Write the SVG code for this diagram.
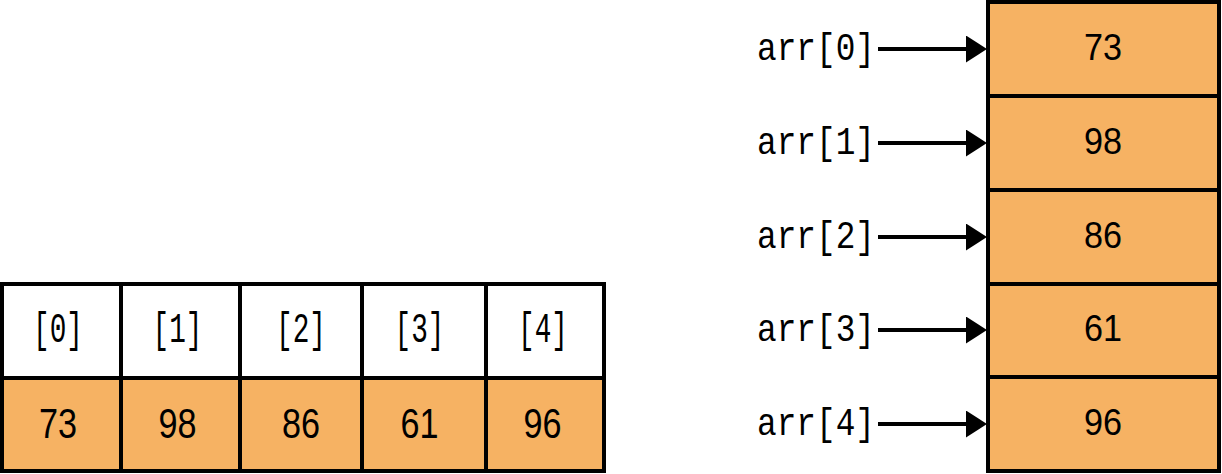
<svg xmlns="http://www.w3.org/2000/svg" width="1222" height="474" viewBox="0 0 1222 474">
<defs>
<style>
.cell{stroke:#000;stroke-width:4}
.hdr{fill:#fff}
.val{fill:#F6B263}
.num{font-family:"Liberation Sans",Arial,sans-serif;fill:#000;text-anchor:middle}
.mono{font-family:"Liberation Mono","DejaVu Sans Mono",monospace;fill:#000}
.conn{stroke:#000;stroke-width:4;fill:none}
</style>
<marker id="ah" markerUnits="userSpaceOnUse" markerWidth="22" markerHeight="28" refX="0" refY="13.5" orient="auto">
<path d="M0,0 L21,13.5 L0,27 Z" fill="#000"/>
</marker>
</defs>
<rect width="1222" height="474" fill="#fff"/>

<!-- Horizontal array -->
<g id="h0">
<rect class="cell hdr" x="2" y="284" width="119" height="94"/>
<rect class="cell val" x="2" y="378" width="119" height="93"/>
<text class="mono" x="58" y="342" font-size="43" text-anchor="middle" textLength="50" lengthAdjust="spacingAndGlyphs">[0]</text>
<text class="num" x="58" y="438" font-size="42" textLength="38" lengthAdjust="spacingAndGlyphs">73</text>
</g>
<g id="h1">
<rect class="cell hdr" x="121" y="284" width="119" height="94"/>
<rect class="cell val" x="121" y="378" width="119" height="93"/>
<text class="mono" x="177.5" y="342" font-size="43" text-anchor="middle" textLength="50" lengthAdjust="spacingAndGlyphs">[1]</text>
<text class="num" x="177.5" y="438" font-size="42" textLength="38" lengthAdjust="spacingAndGlyphs">98</text>
</g>
<g id="h2">
<rect class="cell hdr" x="240" y="284" width="122" height="94"/>
<rect class="cell val" x="240" y="378" width="122" height="93"/>
<text class="mono" x="301" y="342" font-size="43" text-anchor="middle" textLength="50" lengthAdjust="spacingAndGlyphs">[2]</text>
<text class="num" x="301" y="438" font-size="42" textLength="38" lengthAdjust="spacingAndGlyphs">86</text>
</g>
<g id="h3">
<rect class="cell hdr" x="362" y="284" width="124" height="94"/>
<rect class="cell val" x="362" y="378" width="124" height="93"/>
<text class="mono" x="419.5" y="342" font-size="43" text-anchor="middle" textLength="50" lengthAdjust="spacingAndGlyphs">[3]</text>
<text class="num" x="419.5" y="438" font-size="42" textLength="38" lengthAdjust="spacingAndGlyphs">61</text>
</g>
<g id="h4">
<rect class="cell hdr" x="486" y="284" width="118" height="94"/>
<rect class="cell val" x="486" y="378" width="118" height="93"/>
<text class="mono" x="543" y="342" font-size="43" text-anchor="middle" textLength="50" lengthAdjust="spacingAndGlyphs">[4]</text>
<text class="num" x="542.5" y="438" font-size="42" textLength="38" lengthAdjust="spacingAndGlyphs">96</text>
</g>

<!-- Vertical array -->
<g id="v0">
<rect class="cell val" x="988" y="2" width="231" height="94"/>
<text class="num" x="1103" y="60" font-size="37" textLength="38" lengthAdjust="spacingAndGlyphs">73</text>
</g>
<g id="v1">
<rect class="cell val" x="988" y="96" width="231" height="94"/>
<text class="num" x="1103" y="154" font-size="37" textLength="38" lengthAdjust="spacingAndGlyphs">98</text>
</g>
<g id="v2">
<rect class="cell val" x="988" y="190" width="231" height="94"/>
<text class="num" x="1103" y="248" font-size="37" textLength="38" lengthAdjust="spacingAndGlyphs">86</text>
</g>
<g id="v3">
<rect class="cell val" x="988" y="284" width="231" height="93"/>
<text class="num" x="1103" y="341" font-size="37" textLength="38" lengthAdjust="spacingAndGlyphs">61</text>
</g>
<g id="v4">
<rect class="cell val" x="988" y="377" width="231" height="94"/>
<text class="num" x="1103" y="435" font-size="37" textLength="38" lengthAdjust="spacingAndGlyphs">96</text>
</g>

<!-- Labels -->
<g id="l0"><text class="mono" x="757" y="60" font-size="39" textLength="118" lengthAdjust="spacingAndGlyphs">arr[0]</text></g>
<g id="l1"><text class="mono" x="757" y="154" font-size="39" textLength="118" lengthAdjust="spacingAndGlyphs">arr[1]</text></g>
<g id="l2"><text class="mono" x="757" y="248" font-size="39" textLength="118" lengthAdjust="spacingAndGlyphs">arr[2]</text></g>
<g id="l3"><text class="mono" x="757" y="341" font-size="39" textLength="118" lengthAdjust="spacingAndGlyphs">arr[3]</text></g>
<g id="l4"><text class="mono" x="757" y="435" font-size="39" textLength="118" lengthAdjust="spacingAndGlyphs">arr[4]</text></g>

<!-- Connectors -->
<g id="connectors">
<path class="conn" d="M878,49 L966,49" marker-end="url(#ah)"/>
<path class="conn" d="M878,143 L966,143" marker-end="url(#ah)"/>
<path class="conn" d="M878,237 L966,237" marker-end="url(#ah)"/>
<path class="conn" d="M878,330 L966,330" marker-end="url(#ah)"/>
<path class="conn" d="M878,424 L966,424" marker-end="url(#ah)"/>
</g>
</svg>
